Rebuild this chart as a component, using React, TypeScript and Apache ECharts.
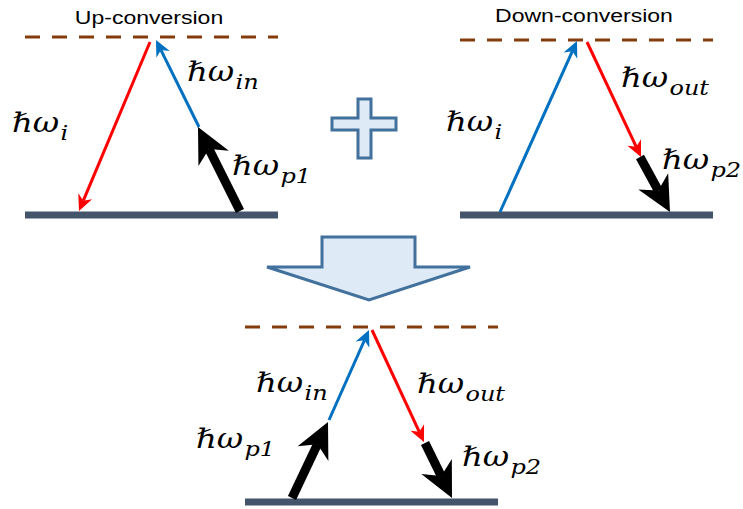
import React, { useEffect, useRef } from "react";
import * as echarts from "echarts";

// ---- diagram data ----
const titles = [
  { text: "Up-conversion", x: 149, y: 17 },
  { text: "Down-conversion", x: 584, y: 15 },
];

// virtual levels (dashed) and ground levels (solid): [x1, x2, y]
const virtualLevels = [
  [25, 278, 37],
  [460, 713, 40],
  [245, 498, 327],
];
const groundLevels = [
  [25, 278, 215],
  [460, 713, 215],
  [245, 498, 502],
];

// arrows: [tailX, tailY, tipX, tipY, kind]
const arrows: [number, number, number, number, string][] = [
  [150, 42, 79, 211, "red"],
  [199, 127, 156, 40, "blue"],
  [240, 211, 198, 127, "black"],
  [500, 212, 577, 41, "blue"],
  [587, 42, 641, 157, "red"],
  [640, 157, 670, 212, "black"],
  [329, 420, 369, 330, "blue"],
  [372, 330, 424, 442, "red"],
  [292, 498, 328, 422, "black"],
  [425, 443, 452, 498, "black"],
];

// labels: [x (left), y (middle of ℏω), subscript]
const labels: [number, number, string][] = [
  [12, 122, "i"],
  [187, 71, "in"],
  [232, 165, "p1"],
  [446, 121, "i"],
  [621, 77, "out"],
  [662, 159, "p2"],
  [256, 382, "in"],
  [417, 383, "out"],
  [196, 438, "p1"],
  [462, 456, "p2"],
];

const plusShape = [
  [358, 99], [371, 99], [371, 118], [396, 118], [396, 130], [371, 130],
  [371, 158], [358, 158], [358, 130], [332, 130], [332, 118], [358, 118],
];
const bigArrowShape = [
  [322, 237], [415, 237], [415, 267], [470, 267], [369, 300], [267, 267], [322, 267],
];

const arrowStyles: Record<string, { color: string; width: number; len: number; half: number; notch: number }> = {
  red: { color: "#FF0000", width: 3, len: 16, half: 7.5, notch: 0.3 },
  blue: { color: "#0070C0", width: 3, len: 16, half: 7.5, notch: 0.3 },
  black: { color: "#000000", width: 9, len: 35, half: 17, notch: 0.3 },
};

function buildArrow(a: [number, number, number, number, string]) {
  const [x1, y1, x2, y2, kind] = a;
  const s = arrowStyles[kind];
  const dx = x2 - x1;
  const dy = y2 - y1;
  const L = Math.sqrt(dx * dx + dy * dy);
  const ux = dx / L;
  const uy = dy / L;
  const vx = -uy;
  const vy = ux;
  const bx = x2 - s.len * ux;
  const by = y2 - s.len * uy;
  const nx = x2 - s.len * (1 - s.notch) * ux;
  const ny = y2 - s.len * (1 - s.notch) * uy;
  return [
    {
      type: "line",
      shape: { x1, y1, x2: nx, y2: ny },
      style: { stroke: s.color, lineWidth: s.width },
    },
    {
      type: "polygon",
      shape: {
        points: [
          [x2, y2],
          [bx + s.half * vx, by + s.half * vy],
          [nx, ny],
          [bx - s.half * vx, by - s.half * vy],
        ],
      },
      style: { fill: s.color },
    },
  ];
}

export default function App() {
  const ref = useRef<HTMLDivElement>(null);
  useEffect(() => {
    if (!ref.current) return;
    const chart = echarts.init(ref.current, null, { renderer: "svg" });
    const elements: any[] = [];

    elements.push({
      type: "polygon",
      shape: { points: plusShape },
      style: { fill: "#DEEBF7", stroke: "#41719C", lineWidth: 3 },
    });
    elements.push({
      type: "polygon",
      shape: { points: bigArrowShape },
      style: { fill: "#DEEBF7", stroke: "#41719C", lineWidth: 3, lineJoin: "miter" },
    });

    virtualLevels.forEach(([x1, x2, y]) =>
      elements.push({
        type: "line",
        shape: { x1, y1: y, x2, y2: y },
        style: { stroke: "#843C0C", lineWidth: 3, lineDash: [15, 12] },
      })
    );
    groundLevels.forEach(([x1, x2, y]) =>
      elements.push({
        type: "line",
        shape: { x1, y1: y, x2, y2: y },
        style: { stroke: "#44546A", lineWidth: 7 },
      })
    );
    arrows.forEach((a) => buildArrow(a).forEach((e) => elements.push(e)));

    titles.forEach((t) =>
      elements.push({
        type: "text",
        x: t.x,
        y: t.y,
        scaleX: 1.28,
        style: {
          text: t.text,
          fontFamily: "Liberation Sans, Arial, sans-serif",
          fontSize: 18,
          fill: "#000",
          align: "center",
          verticalAlign: "middle",
        },
      })
    );

    labels.forEach(([x, y, sub]) =>
      elements.push({
        type: "text",
        x,
        y,
        scaleX: 1.2,
        style: {
          text: "{m|ℏω}{s|" + sub + "}",
          align: "left",
          verticalAlign: "middle",
          rich: {
            m: {
              fontFamily: "DejaVu Serif",
              fontStyle: "italic",
              fontSize: 27,
              fill: "#000",
              lineHeight: 30,
            },
            s: {
              fontFamily: "DejaVu Serif",
              fontStyle: "italic",
              fontSize: 20,
              fill: "#000",
              lineHeight: 30,
              padding: [21, 0, 0, 1],
            },
          },
        },
      })
    );

    chart.setOption({
      animation: false,
      backgroundColor: "#ffffff",
      graphic: { elements },
    });
    return () => chart.dispose();
  }, []);
  return (
    <div
      ref={ref}
      style={{ position: "fixed", left: 0, top: 0, width: "743px", height: "509px" }}
    />
  );
}
